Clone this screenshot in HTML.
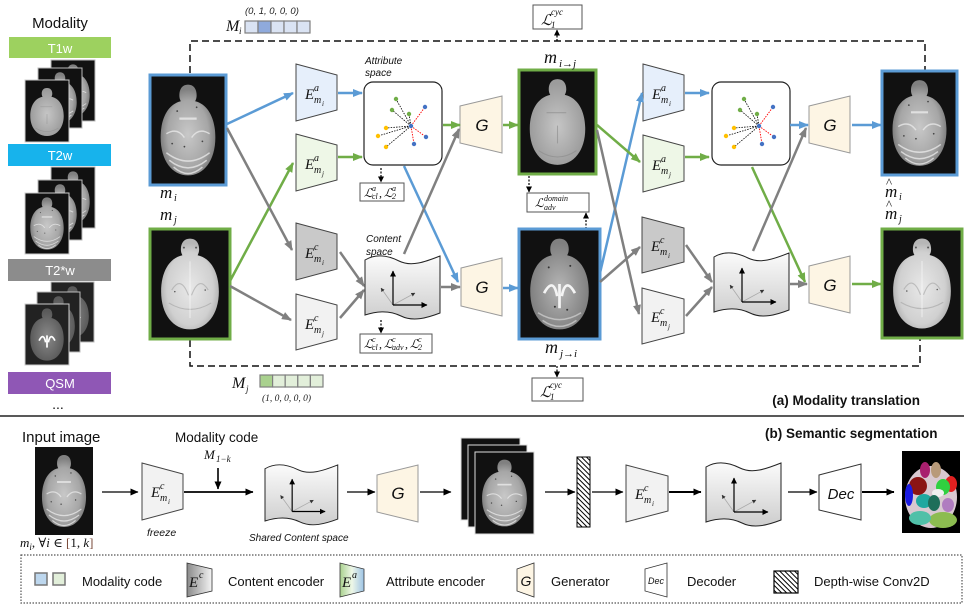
<!DOCTYPE html>
<html><head><meta charset="utf-8"><style>
html,body{margin:0;padding:0;background:#fff;}
svg{display:block;}
.s{font-family:"Liberation Sans",sans-serif;}
.m{font-family:"Liberation Serif","DejaVu Serif",serif;font-style:italic;}
</style></head><body>
<svg width="964" height="606" viewBox="0 0 964 606" xmlns="http://www.w3.org/2000/svg">
<defs>
<marker id="ab" viewBox="0 0 10 8" refX="9" refY="4" markerWidth="10" markerHeight="8" markerUnits="userSpaceOnUse" orient="auto"><path d="M0,0L10,4L0,8z" fill="#5b9bd5"/></marker>
<marker id="ag" viewBox="0 0 10 8" refX="9" refY="4" markerWidth="10" markerHeight="8" markerUnits="userSpaceOnUse" orient="auto"><path d="M0,0L10,4L0,8z" fill="#70ad47"/></marker>
<marker id="ay" viewBox="0 0 10 8" refX="9" refY="4" markerWidth="10" markerHeight="8" markerUnits="userSpaceOnUse" orient="auto"><path d="M0,0L10,4L0,8z" fill="#808080"/></marker>
<marker id="ak" viewBox="0 0 8 7" refX="7.5" refY="3.5" markerWidth="8" markerHeight="7" markerUnits="userSpaceOnUse" orient="auto"><path d="M0,0L8,3.5L0,7z" fill="#000"/></marker>
<marker id="ak2" viewBox="0 0 6 6" refX="5.5" refY="3" markerWidth="6" markerHeight="6" markerUnits="userSpaceOnUse" orient="auto"><path d="M0,0L6,3L0,6z" fill="#000"/></marker>
<marker id="ag2" viewBox="0 0 6 6" refX="5.5" refY="3" markerWidth="4" markerHeight="4" markerUnits="userSpaceOnUse" orient="auto"><path d="M0,0L6,3L0,6z" fill="#333"/></marker>
<radialGradient id="rg1" cy="55%"><stop offset="0" stop-color="#c8c8c8"/><stop offset="0.75" stop-color="#a6a6a6"/><stop offset="1" stop-color="#808080"/></radialGradient>
<radialGradient id="rg2" cy="55%"><stop offset="0" stop-color="#e8e8e8"/><stop offset="0.8" stop-color="#d0d0d0"/><stop offset="1" stop-color="#b6b6b6"/></radialGradient>
<radialGradient id="rg3" cy="55%"><stop offset="0" stop-color="#8a8a8a"/><stop offset="1" stop-color="#5a5a5a"/></radialGradient>
<radialGradient id="rg4" cy="55%"><stop offset="0" stop-color="#b6b6b6"/><stop offset="1" stop-color="#808080"/></radialGradient>
<radialGradient id="rg5" cy="55%"><stop offset="0" stop-color="#c6c6c6"/><stop offset="1" stop-color="#9c9c9c"/></radialGradient>
<linearGradient id="lgc" x1="0" y1="0" x2="0" y2="1"><stop offset="0" stop-color="#fbfbfb"/><stop offset="1" stop-color="#cdcdcd"/></linearGradient>
<linearGradient id="lgEc" x1="0" y1="0" x2="1" y2="0"><stop offset="0" stop-color="#8a8a8a"/><stop offset="1" stop-color="#f4f4f4"/></linearGradient>
<linearGradient id="lgEa" x1="0" y1="0" x2="1" y2="0"><stop offset="0" stop-color="#a9d18e"/><stop offset="0.5" stop-color="#eef7e7"/><stop offset="1" stop-color="#9dc3e6"/></linearGradient>
<pattern id="hatch" width="3.5" height="3.5" patternUnits="userSpaceOnUse" patternTransform="rotate(-45)"><rect width="3.5" height="3.5" fill="#fff"/><line x1="0" y1="0" x2="0" y2="3.5" stroke="#000" stroke-width="2"/></pattern>

<path id="brp" d="M50,10 C58,10 62,16 62,24 C62,28 61,30 60,32 C78,36 88,55 88,80 C88,110 72,130 50,130 C28,130 12,110 12,80 C12,55 22,36 40,32 C39,30 38,28 38,24 C38,16 42,10 50,10 Z"/>

<symbol id="bT1" viewBox="0 0 100 140" preserveAspectRatio="none">
<use href="#brp" fill="url(#rg1)"/>
<g fill="none" stroke="#ececec" stroke-width="2" opacity=".75"><path d="M20,100 Q50,122 80,100"/><path d="M24,110 Q50,130 76,110"/><path d="M30,119 Q50,136 70,119"/><path d="M20,75 Q35,66 45,80"/><path d="M80,75 Q65,66 55,80"/></g>
<path d="M38,55 L62,55" stroke="#e0e0e0" stroke-width="3"/>
<g fill="#444"><circle cx="35" cy="45" r="1.2"/><circle cx="62" cy="40" r="1.2"/><circle cx="45" cy="92" r="1.2"/><circle cx="70" cy="85" r="1.2"/><circle cx="28" cy="88" r="1.2"/></g>
</symbol>
<symbol id="bT2" viewBox="0 0 100 140" preserveAspectRatio="none">
<use href="#brp" fill="url(#rg2)"/>
<g fill="none" stroke="#999" stroke-width="1.5" opacity=".5"><path d="M26,78 Q38,58 48,85"/><path d="M74,78 Q62,58 52,85"/><path d="M22,95 Q50,112 78,95"/></g>
<path d="M50,40 L50,115" stroke="#fff" stroke-width="1.5" opacity=".5"/>
<g fill="#555"><circle cx="42" cy="22" r="1.3"/><circle cx="58" cy="22" r="1.3"/><circle cx="30" cy="80" r="1"/><circle cx="70" cy="78" r="1"/></g>
</symbol>
<symbol id="bS" viewBox="0 0 100 140" preserveAspectRatio="none">
<use href="#brp" fill="url(#rg5)"/>
<g fill="none" stroke="#8a8a8a" stroke-width="1.5" opacity=".6"><path d="M35,57 L62,57"/><path d="M50,75 L50,100"/><path d="M24,110 Q50,128 76,110"/></g>
</symbol>
<symbol id="bQ" viewBox="0 0 100 140" preserveAspectRatio="none">
<use href="#brp" fill="url(#rg3)"/>
<g fill="none" stroke="#fff" stroke-width="4"><path d="M32,84 Q42,64 47,88"/><path d="M68,84 Q58,64 53,88"/><path d="M50,72 L50,100"/></g>
</symbol>
<symbol id="bQ2" viewBox="0 0 100 140" preserveAspectRatio="none">
<use href="#brp" fill="url(#rg4)"/>
<g fill="none" stroke="#f4f4f4" stroke-width="3.5"><path d="M30,82 Q42,60 47,86"/><path d="M70,82 Q58,60 53,86"/><path d="M50,70 L50,102"/></g>
<g fill="none" stroke="#e0e0e0" stroke-width="2" opacity=".6"><path d="M22,108 Q50,126 78,108"/><path d="M28,118 Q50,134 72,118"/></g>
<g fill="#333"><circle cx="36" cy="48" r="1.3"/><circle cx="64" cy="46" r="1.3"/><circle cx="44" cy="100" r="1.3"/><circle cx="60" cy="104" r="1.3"/></g>
</symbol>

<g id="as">
<rect x="0" y="0" width="78" height="83" rx="9" fill="#fff" stroke="#222" stroke-width="1.2"/>
<g stroke="#000" stroke-width="0.8" stroke-dasharray="1.5,1.2" fill="none">
<path d="M47,44 L32,17"/><path d="M47,44 L28,28"/><path d="M47,44 L45,32"/><path d="M47,44 L22,46"/><path d="M47,44 L14,54"/><path d="M47,44 L22,65"/>
</g>
<g stroke="#f00" stroke-width="0.9" stroke-dasharray="1.5,1.2" fill="none"><path d="M47,44 L61,25"/><path d="M47,44 L62,55"/><path d="M47,44 L50,62"/></g>
<g fill="#70ad47"><circle cx="32" cy="17" r="2.2"/><circle cx="28" cy="28" r="2.2"/><circle cx="45" cy="32" r="2.2"/></g>
<g fill="#ffc000"><circle cx="22" cy="46" r="2.2"/><circle cx="14" cy="54" r="2.2"/><circle cx="22" cy="65" r="2.2"/></g>
<g fill="#4472c4"><circle cx="61" cy="25" r="2.2"/><circle cx="62" cy="55" r="2.2"/><circle cx="50" cy="62" r="2.2"/><circle cx="47" cy="44" r="2.2"/></g>
</g>

<g id="cs">
<path d="M0,5 C10,-1 22,0 34,6 C46,12 60,7 75,1 L75,58 C62,63 48,67 36,61 C24,55 12,56 0,60 Z" fill="url(#lgc)" stroke="#222" stroke-width="1"/>
<g stroke="#aaa" stroke-width="0.8" fill="none" marker-end="url(#ag2)"><path d="M28,50 L16,33"/><path d="M28,50 L50,38"/></g>
<g stroke="#000" stroke-width="1.2" fill="none" marker-end="url(#ak2)"><path d="M28,50 L28,16"/><path d="M28,50 L62,50"/></g>
</g>
</defs>

<rect width="964" height="606" fill="#fff"/>

<!-- LEFT COLUMN -->
<text class="s" x="60" y="28" font-size="15" text-anchor="middle" fill="#111">Modality</text>
<rect x="9" y="37" width="102" height="21" fill="#9dd15f"/>
<text class="s" x="60" y="53" font-size="13" text-anchor="middle" fill="#fff">T1w</text>
<rect x="51" y="60" width="44" height="61" fill="#111" stroke="#bbb"/><use href="#bT1" x="51" y="60" width="44" height="61"/>
<rect x="38" y="68" width="44" height="60" fill="#111" stroke="#bbb"/><use href="#bT1" x="38" y="68" width="44" height="60"/>
<rect x="25" y="80" width="44" height="62" fill="#111" stroke="#ccc"/><use href="#bS" x="25" y="84" width="44" height="56"/>

<rect x="8" y="144" width="103" height="22" fill="#17b3ec"/>
<text class="s" x="60" y="160" font-size="13" text-anchor="middle" fill="#fff">T2w</text>
<rect x="51" y="167" width="44" height="61" fill="#111" stroke="#bbb"/><use href="#bT1" x="51" y="167" width="44" height="61"/>
<rect x="38" y="180" width="44" height="60" fill="#111" stroke="#bbb"/><use href="#bT1" x="38" y="180" width="44" height="60"/>
<rect x="25" y="193" width="44" height="61" fill="#111" stroke="#ccc"/><use href="#bT1" x="25" y="193" width="44" height="61"/>

<rect x="8" y="259" width="103" height="22" fill="#8c8c8c"/>
<text class="s" x="60" y="275" font-size="13" text-anchor="middle" fill="#fff">T2*w</text>
<rect x="51" y="282" width="43" height="60" fill="#222" stroke="#bbb"/><use href="#bQ" x="51" y="282" width="43" height="60"/>
<rect x="37" y="292" width="43" height="60" fill="#222" stroke="#bbb"/><use href="#bQ" x="37" y="292" width="43" height="60"/>
<rect x="25" y="304" width="44" height="61" fill="#222" stroke="#ccc"/><use href="#bQ" x="25" y="304" width="44" height="61"/>

<rect x="8" y="372" width="103" height="22" fill="#8f57b5"/>
<text class="s" x="60" y="388" font-size="13" text-anchor="middle" fill="#fff">QSM</text>
<text class="s" x="58" y="409" font-size="14" text-anchor="middle" fill="#111">...</text>

<!-- MODALITY CODES -->
<text class="s" x="245" y="14" font-size="9.5" font-style="italic" fill="#222">(0, 1, 0, 0, 0)</text>
<text class="m" x="226" y="31" font-size="16" fill="#111">M</text><text class="m" x="239" y="34" font-size="9" fill="#111">i</text>
<g stroke="#7f7f7f" stroke-width="1.2"><rect x="245" y="21" width="13" height="12" fill="#dae3f3"/><rect x="258" y="21" width="13" height="12" fill="#8faadc"/><rect x="271" y="21" width="13" height="12" fill="#dae3f3"/><rect x="284" y="21" width="13" height="12" fill="#dae3f3"/><rect x="297" y="21" width="13" height="12" fill="#dae3f3"/></g>

<text class="m" x="232" y="388" font-size="16" fill="#111">M</text><text class="m" x="246" y="392" font-size="9" fill="#111">j</text>
<g stroke="#7f7f7f" stroke-width="1.2"><rect x="260" y="375" width="12.6" height="12" fill="#a9d18e"/><rect x="272.6" y="375" width="12.6" height="12" fill="#e2efda"/><rect x="285.2" y="375" width="12.6" height="12" fill="#e2efda"/><rect x="297.8" y="375" width="12.6" height="12" fill="#e2efda"/><rect x="310.4" y="375" width="12.6" height="12" fill="#e2efda"/></g>
<text class="m" x="262" y="401" font-size="9.5" fill="#222">(1, 0, 0, 0, 0)</text>

<!-- DASHED CYCLE LINES -->
<g fill="none" stroke="#111" stroke-width="1.5" stroke-dasharray="7,4">
<path d="M190,73 L190,41 L925,41 L925,71"/>
<path d="M190,340 L190,366 L920,366 L920,338"/>
</g>

<!-- LOSS BOXES -->
<g fill="#fff" stroke="#555" stroke-width="1"><rect x="533" y="5" width="49" height="24"/><rect x="532" y="378" width="51" height="23"/><rect x="360" y="183" width="44" height="18"/><rect x="360" y="334" width="72" height="19"/><rect x="527" y="193" width="62" height="19"/></g>
<g stroke="#000" stroke-width="1.2" stroke-dasharray="2,1.5" fill="none" marker-end="url(#ak2)">
<path d="M557,41 L557,30"/><path d="M557,366 L557,377"/><path d="M381,168 L381,182"/><path d="M381,320 L381,333"/><path d="M529,176 L529,192"/><path d="M586,229 L586,213"/>
</g>
<g class="m" fill="#111">
<text x="541" y="25" font-size="15">ℒ</text><text x="551" y="15" font-size="9">cyc</text><text x="551" y="28" font-size="9">1</text>
<text x="540" y="397" font-size="15">ℒ</text><text x="550" y="388" font-size="9">cyc</text><text x="550" y="400" font-size="9">1</text>
<text x="364" y="197" font-size="12">ℒ</text><text x="372" y="191" font-size="8">a</text><text x="372" y="199" font-size="8">cl</text><text x="379" y="197" font-size="12">,</text><text x="384" y="197" font-size="12">ℒ</text><text x="392" y="191" font-size="8">a</text><text x="392" y="199" font-size="8">2</text>
<text x="364" y="348" font-size="12">ℒ</text><text x="372" y="342" font-size="8">c</text><text x="372" y="350" font-size="8">cl</text><text x="379" y="348" font-size="12">,</text><text x="384" y="348" font-size="12">ℒ</text><text x="392" y="342" font-size="8">c</text><text x="392" y="350" font-size="8">adv</text><text x="405" y="348" font-size="12">,</text><text x="410" y="348" font-size="12">ℒ</text><text x="418" y="342" font-size="8">c</text><text x="418" y="350" font-size="8">2</text>
<text x="535" y="207" font-size="12">ℒ</text><text x="544" y="201" font-size="8">domain</text><text x="544" y="210" font-size="8">adv</text>
</g>

<!-- IMAGES (a) -->
<rect x="150" y="75" width="76" height="110" fill="#111" stroke="#5b9bd5" stroke-width="3"/><use href="#bT1" x="152" y="77" width="72" height="106"/>
<rect x="150" y="229" width="80" height="110" fill="#111" stroke="#70ad47" stroke-width="3"/><use href="#bT2" x="152" y="231" width="76" height="106"/>
<rect x="519" y="70" width="77" height="104" fill="#111" stroke="#70ad47" stroke-width="3"/><use href="#bS" x="521" y="72" width="73" height="100"/>
<rect x="519" y="229" width="81" height="110" fill="#111" stroke="#5b9bd5" stroke-width="3"/><use href="#bQ2" x="521" y="231" width="77" height="106"/>
<rect x="882" y="71" width="75" height="104" fill="#111" stroke="#5b9bd5" stroke-width="3"/><use href="#bT1" x="884" y="73" width="71" height="100"/>
<rect x="882" y="229" width="80" height="109" fill="#111" stroke="#70ad47" stroke-width="3"/><use href="#bT2" x="884" y="231" width="76" height="105"/>

<g class="m" fill="#111">
<text x="160" y="198" font-size="17">m</text><text x="174" y="201" font-size="10">i</text>
<text x="160" y="220" font-size="17">m</text><text x="174" y="223" font-size="10">j</text>
<text x="544" y="63" font-size="18">m</text><text x="559" y="67" font-size="11">i→j</text>
<text x="545" y="353" font-size="18">m</text><text x="560" y="357" font-size="11">j→i</text>
<text x="885" y="197" font-size="17">m</text><text x="886" y="187" font-size="13" font-style="normal">^</text><text x="899" y="200" font-size="10">i</text>
<text x="885" y="219" font-size="17">m</text><text x="886" y="209" font-size="13" font-style="normal">^</text><text x="899" y="222" font-size="10">j</text>
</g>

<!-- ATTRIBUTE / CONTENT SPACES -->
<text class="s" x="365" y="64" font-size="10" font-style="italic" fill="#111">Attribute</text>
<text class="s" x="365" y="76" font-size="10" font-style="italic" fill="#111">space</text>
<use href="#as" transform="translate(364,82)"/>
<use href="#as" transform="translate(712,82)"/>
<text class="s" x="366" y="242" font-size="10" font-style="italic" fill="#111">Content</text>
<text class="s" x="366" y="255" font-size="10" font-style="italic" fill="#111">space</text>
<use href="#cs" transform="translate(365,255)"/>
<use href="#cs" transform="translate(714,252)"/>

<!-- ENCODERS -->
<g stroke="#444" stroke-width="1">
<polygon points="296,64 337,75 337,110 296,121" fill="#e6effb"/>
<polygon points="296,134 337,145 337,180 296,191" fill="#eef7e7"/>
<polygon points="296,223 337,234 337,269 296,280" fill="#c9c9c9"/>
<polygon points="296,294 337,305 337,339 296,350" fill="#f2f2f2"/>
<polygon points="643,64 684,75 684,110 643,121" fill="#e6effb"/>
<polygon points="643,135 684,146 684,181 643,192" fill="#eef7e7"/>
<polygon points="642,217 684,228 684,262 642,273" fill="#c9c9c9"/>
<polygon points="642,288 684,299 684,333 642,344" fill="#f2f2f2"/>
<polygon points="142,463 183,474 183,509 142,520" fill="#f2f2f2"/>
<polygon points="626,465 668,476 668,511 626,522" fill="#f2f2f2"/>
</g>
<g stroke="#999" stroke-width="1" fill="#fdf5e4">
<polygon points="460,106 502,96 502,153 460,143"/>
<polygon points="461,268 502,258 502,316 461,306"/>
<polygon points="809,106 850,96 850,153 809,143"/>
<polygon points="809,266 850,256 850,313 809,303"/>
<polygon points="377,475 418,465 418,522 377,512"/>
</g>
<polygon points="819,475 861,464 861,520 819,510" fill="#fff" stroke="#333" stroke-width="1"/>

<g class="m" fill="#111">
<text x="305" y="99" font-size="15">E</text><text x="314" y="91" font-size="10">a</text><text x="314" y="103" font-size="10">m</text><text x="322" y="106" font-size="7">i</text>
<text x="305" y="169" font-size="15">E</text><text x="314" y="161" font-size="10">a</text><text x="314" y="173" font-size="10">m</text><text x="322" y="176" font-size="7">j</text>
<text x="305" y="258" font-size="15">E</text><text x="314" y="250" font-size="10">c</text><text x="314" y="262" font-size="10">m</text><text x="322" y="265" font-size="7">i</text>
<text x="305" y="329" font-size="15">E</text><text x="314" y="321" font-size="10">c</text><text x="314" y="333" font-size="10">m</text><text x="322" y="336" font-size="7">j</text>
<text x="652" y="99" font-size="15">E</text><text x="661" y="91" font-size="10">a</text><text x="661" y="103" font-size="10">m</text><text x="669" y="106" font-size="7">i</text>
<text x="652" y="170" font-size="15">E</text><text x="661" y="162" font-size="10">a</text><text x="661" y="174" font-size="10">m</text><text x="669" y="177" font-size="7">j</text>
<text x="651" y="251" font-size="15">E</text><text x="660" y="243" font-size="10">c</text><text x="660" y="255" font-size="10">m</text><text x="668" y="258" font-size="7">i</text>
<text x="651" y="322" font-size="15">E</text><text x="660" y="314" font-size="10">c</text><text x="660" y="326" font-size="10">m</text><text x="668" y="329" font-size="7">j</text>
<text x="151" y="497" font-size="15">E</text><text x="160" y="489" font-size="10">c</text><text x="160" y="501" font-size="10">m</text><text x="168" y="504" font-size="7">i</text>
<text x="635" y="499" font-size="15">E</text><text x="644" y="491" font-size="10">c</text><text x="644" y="503" font-size="10">m</text><text x="652" y="506" font-size="7">i</text>
</g>
<g class="s" font-style="italic" font-size="17" fill="#111" text-anchor="middle">
<text x="482" y="131">G</text><text x="482" y="293">G</text><text x="830" y="131">G</text><text x="830" y="291">G</text><text x="398" y="499">G</text>
</g>
<text class="s" x="841" y="499" font-size="15" font-style="italic" text-anchor="middle" fill="#111">Dec</text>

<!-- ARROWS (a) -->
<g fill="none" stroke-width="2.5">
<g stroke="#5b9bd5" marker-end="url(#ab)">
<path d="M227,124 L293,93"/><path d="M338,93 L362,93"/><path d="M404,166 L458,282"/><path d="M503,288 L518,288"/><path d="M600,273 L642,93"/><path d="M685,93 L709,93"/><path d="M790,125 L808,125"/><path d="M852,125 L881,125"/>
</g>
<g stroke="#70ad47" marker-end="url(#ag)">
<path d="M230,281 L293,163"/><path d="M338,157 L362,157"/><path d="M443,125 L460,125"/><path d="M503,125 L518,125"/><path d="M597,125 L640,162"/><path d="M685,157 L709,157"/><path d="M752,167 L805,282"/><path d="M852,284 L881,284"/>
</g>
<g stroke="#808080" marker-end="url(#ay)">
<path d="M227,128 L292,250"/><path d="M230,286 L291,320"/><path d="M340,252 L364,286"/><path d="M340,318 L364,290"/><path d="M404,254 L459,129"/><path d="M441,287 L460,287"/><path d="M597,130 L639,314"/><path d="M600,282 L640,247"/><path d="M686,245 L712,282"/><path d="M686,316 L712,287"/><path d="M753,251 L806,128"/><path d="M790,284 L807,284"/>
</g>
</g>

<text class="s" x="920" y="405" font-size="13.5" font-weight="bold" text-anchor="end" fill="#111">(a) Modality translation</text>

<line x1="0" y1="416" x2="964" y2="416" stroke="#222" stroke-width="1.5"/>

<!-- PART (b) -->
<text class="s" x="22" y="442" font-size="15" fill="#111">Input image</text>
<text class="s" x="175" y="442" font-size="13.5" fill="#111">Modality code</text>
<text class="s" x="765" y="438" font-size="13.5" font-weight="bold" fill="#111">(b) Semantic segmentation</text>
<text class="m" x="204" y="459" font-size="13" fill="#111">M</text><text class="m" x="216" y="462" font-size="9" fill="#111">1−k</text>
<rect x="35" y="447" width="58" height="88" fill="#111"/><use href="#bT1" x="35" y="449" width="58" height="84"/>
<text class="m" x="20" y="547" font-size="13" fill="#111">m<tspan font-size="9" dy="3">i</tspan><tspan dy="-3" font-style="normal">, ∀</tspan>i<tspan font-style="normal"> ∈ </tspan><tspan font-style="normal" fill="#7a4a3a">[</tspan><tspan font-style="normal">1, </tspan>k<tspan font-style="normal" fill="#7a4a3a">]</tspan></text>
<text class="s" x="147" y="536" font-size="10.5" font-style="italic" fill="#111">freeze</text>
<use href="#cs" transform="translate(265,464) scale(0.97,0.95)"/>
<text class="s" x="249" y="541" font-size="10" font-style="italic" fill="#111">Shared Content space</text>
<rect x="461" y="438" width="59" height="82" fill="#111" stroke="#ddd"/>
<rect x="468" y="445" width="59" height="82" fill="#111" stroke="#ddd"/><use href="#bT1" x="468" y="447" width="59" height="78"/>
<rect x="475" y="452" width="59" height="82" fill="#111" stroke="#ddd"/><use href="#bT1" x="475" y="454" width="59" height="78"/>
<rect x="577" y="457" width="13" height="70" fill="url(#hatch)" stroke="#000" stroke-width="1"/>
<use href="#cs" transform="translate(706,462)"/>

<g fill="none" stroke="#000" marker-end="url(#ak)">
<path d="M102,492 L138,492" stroke-width="1.3"/>
<path d="M184,492 L253,492" stroke-width="1.8"/>
<path d="M218,468 L218,489" stroke-width="1.6"/>
<path d="M347,492 L375,492" stroke-width="1.3"/>
<path d="M420,492 L451,492" stroke-width="1.3"/>
<path d="M545,492 L575,492" stroke-width="1.3"/>
<path d="M592,492 L623,492" stroke-width="1.3"/>
<path d="M669,492 L701,492" stroke-width="2"/>
<path d="M788,492 L817,492" stroke-width="1.3"/>
<path d="M862,492 L894,492" stroke-width="2"/>
</g>

<!-- segmentation -->
<rect x="902" y="451" width="58" height="82" fill="#000"/>
<ellipse cx="931" cy="497" rx="26" ry="31" fill="#d8c8d0"/>
<ellipse cx="925" cy="470" rx="5" ry="8" fill="#a8206e"/>
<ellipse cx="936" cy="470" rx="5" ry="8" fill="#b89a7a"/>
<ellipse cx="918" cy="486" rx="9" ry="9" fill="#8b1414"/>
<ellipse cx="951" cy="484" rx="6" ry="8" fill="#e02020"/>
<ellipse cx="943" cy="487" rx="7" ry="8" fill="#30d040"/>
<ellipse cx="909" cy="495" rx="4" ry="11" fill="#1a1ae0"/>
<ellipse cx="938" cy="493" rx="6" ry="4" fill="#f0f0f0"/>
<ellipse cx="924" cy="501" rx="8" ry="7" fill="#20a8a0"/>
<ellipse cx="934" cy="503" rx="6" ry="8" fill="#1e6e5a"/>
<ellipse cx="948" cy="505" rx="6" ry="7" fill="#b07cc0"/>
<ellipse cx="943" cy="520" rx="14" ry="8" fill="#8cbc50"/>
<ellipse cx="920" cy="518" rx="11" ry="7" fill="#50c0a8"/>

<!-- LEGEND -->
<rect x="21" y="555" width="941" height="48" fill="none" stroke="#555" stroke-width="1.2" stroke-dasharray="1.5,1.5"/>
<rect x="35" y="573" width="12" height="12" fill="#bdd7ee" stroke="#777" stroke-width="1.5"/>
<rect x="53" y="573" width="12" height="12" fill="#e2efda" stroke="#777" stroke-width="1.5"/>
<text class="s" x="82" y="586" font-size="13" fill="#111">Modality code</text>
<polygon points="187,563 212,569 212,591 187,597" fill="url(#lgEc)" stroke="#333" stroke-width="0.8"/>
<text class="m" x="189" y="587" font-size="15" fill="#111">E</text><text class="m" x="199" y="578" font-size="10" fill="#111">c</text>
<text class="s" x="228" y="586" font-size="13" fill="#111">Content encoder</text>
<polygon points="340,563 364,569 364,591 340,597" fill="url(#lgEa)" stroke="#333" stroke-width="0.8"/>
<text class="m" x="342" y="587" font-size="15" fill="#111">E</text><text class="m" x="352" y="578" font-size="10" fill="#111">a</text>
<text class="s" x="386" y="586" font-size="13" fill="#111">Attribute encoder</text>
<polygon points="517,569 534,563 534,597 517,591" fill="#fdf5e4" stroke="#333" stroke-width="0.8"/>
<text class="s" x="526" y="586" font-size="14" font-style="italic" text-anchor="middle" fill="#111">G</text>
<text class="s" x="551" y="586" font-size="13" fill="#111">Generator</text>
<polygon points="645,569 667,563 667,597 645,591" fill="#fff" stroke="#333" stroke-width="0.8"/>
<text class="s" x="656" y="584" font-size="9" font-style="italic" text-anchor="middle" fill="#111">Dec</text>
<text class="s" x="687" y="586" font-size="13" fill="#111">Decoder</text>
<rect x="774" y="571" width="24" height="22" fill="url(#hatch)" stroke="#000" stroke-width="1.2"/>
<text class="s" x="814" y="586" font-size="13" fill="#111">Depth-wise Conv2D</text>
</svg>
</body></html>
